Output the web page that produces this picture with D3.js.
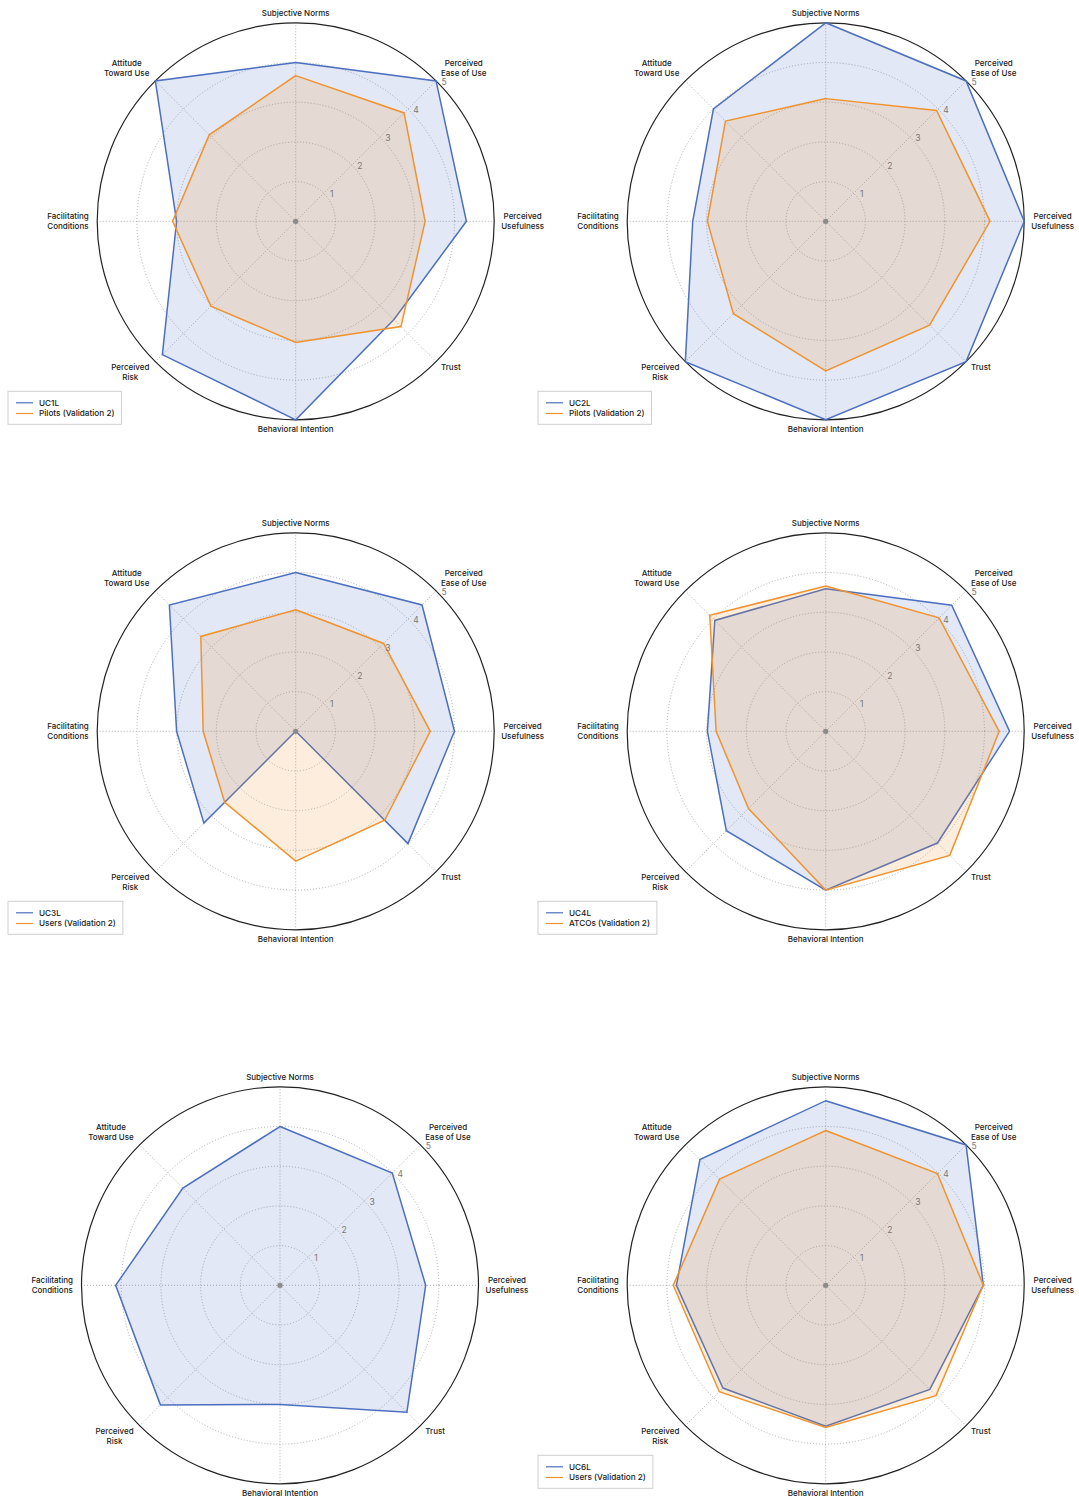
<!DOCTYPE html>
<html>
<head>
<meta charset="utf-8">
<script src="https://cdn.jsdelivr.net/npm/d3@7"></script>
<style>
  html, body { margin: 0; padding: 0; background: #fff; }
  svg { display: block; font-family: Inter, "Noto Sans", sans-serif; }
</style>
</head>
<body>
<svg id="chart" width="1079" height="1497"></svg>
<script>
// Axis categories, clockwise from the top
const categories = ["Subjective Norms", "Perceived\nEase of Use", "Perceived\nUsefulness", "Trust",
  "Behavioral Intention", "Perceived\nRisk", "Facilitating\nConditions", "Attitude\nToward Use"];
const tickValues = [1, 2, 3, 4, 5];

// Series values (same order as categories)
const uc1l = [4.0, 5.0, 4.3, 3.5, 5.0, 4.75, 3.0, 5.0];
const pilotsA = [3.67, 3.86, 3.26, 3.75, 3.05, 3.02, 3.1, 3.08];
const uc2l = [5.0, 5.0, 5.0, 5.0, 5.0, 5.0, 3.35, 4.0];
const pilotsB = [3.09, 3.95, 4.14, 3.7, 3.77, 3.29, 2.98, 3.57];
const uc3l = [4.0, 4.5, 4.0, 4.0, 0.0, 3.27, 3.0, 4.5];
const usersA = [3.06, 3.13, 3.39, 3.17, 3.27, 2.53, 2.33, 3.38];
const uc4l = [3.59, 4.49, 4.63, 3.98, 4.0, 3.54, 2.98, 3.95];
const atcos = [3.66, 4.04, 4.37, 4.42, 4.0, 2.75, 2.76, 4.13];
const uc5l = [4.0, 4.0, 3.67, 4.52, 3.0, 4.26, 4.14, 3.46];
const uc6l = [4.65, 5.0, 3.97, 3.71, 3.55, 3.66, 3.76, 4.48];
const usersB = [3.9, 3.98, 3.97, 3.93, 3.58, 3.79, 3.84, 3.78];

const seriesNames = [
  ["UC1L", "Pilots (Validation 2)"],
  ["UC2L", "Pilots (Validation 2)"],
  ["UC3L", "Users (Validation 2)"],
  ["UC4L", "ATCOs (Validation 2)"],
  ["UC5L"],
  ["UC6L", "Users (Validation 2)"]
];
const seriesValues = [
  [uc1l, pilotsA], [uc2l, pilotsB], [uc3l, usersA], [uc4l, atcos], [uc5l], [uc6l, usersB]
];
const showLegend = [true, true, true, true, false, true];

// Layout
const centers = [[295.7, 221.3], [825.7, 221.3], [295.7, 731.3], [825.7, 731.3], [280, 1285.3], [825.7, 1285.3]];
const R = 198.5;
const colors = ["#4c6fbf", "#f0932f"];
const fillOpacity = [0.16, 0.17];

const svg = d3.select("#chart");
const rScale = d3.scaleLinear().domain([0, 5]).range([0, R]);
const aScale = d3.scaleLinear().domain([0, categories.length]).range([0, 2 * Math.PI]);
const sgn = v => (Math.abs(v) < 1e-6 ? 0 : Math.sign(v));

seriesValues.forEach((sets, ci) => {
  const [cx, cy] = centers[ci];
  const g = svg.append("g").attr("transform", `translate(${cx},${cy})`);

  // rings
  g.selectAll("circle.ring").data(tickValues.slice(0, -1)).join("circle")
    .attr("r", d => rScale(d)).attr("fill", "none")
    .attr("stroke", "#9a9a9a").attr("stroke-width", 0.8).attr("stroke-dasharray", "1,2");
  // spokes
  g.selectAll("line.spoke").data(categories).join("line")
    .attr("x1", 0).attr("y1", 0)
    .attr("x2", (d, i) => rScale(5) * Math.sin(aScale(i)))
    .attr("y2", (d, i) => -rScale(5) * Math.cos(aScale(i)))
    .attr("stroke", "#9a9a9a").attr("stroke-width", 0.8).attr("stroke-dasharray", "1,2");
  // outer circle
  g.append("circle").attr("r", rScale(5)).attr("fill", "none").attr("stroke", "#222").attr("stroke-width", 1.2);

  // series
  const line = d3.lineRadial().angle((d, i) => aScale(i)).radius(d => rScale(d)).curve(d3.curveLinearClosed);
  sets.forEach((vals, si) => {
    g.append("path").attr("d", line(vals)).attr("fill", colors[si]).attr("fill-opacity", fillOpacity[si]).attr("stroke", "none");
    g.append("path").attr("d", line(vals)).attr("fill", "none").attr("stroke", colors[si]).attr("stroke-width", 1.5).attr("stroke-linejoin", "miter");
  });

  // center dot
  g.append("circle").attr("r", 2.6).attr("fill", "#8a8a8a");

  // tick labels along 45 degrees
  const ta = aScale(1);
  g.selectAll("text.tick").data(tickValues).join("text")
    .attr("x", d => rScale(d) * Math.sin(ta) + 8)
    .attr("y", d => -rScale(d) * Math.cos(ta) + 1)
    .attr("text-anchor", "middle").attr("dominant-baseline", "central")
    .attr("font-size", 8.5).attr("fill", "#777").text(d => d);

  // category labels: box anchored outside the circle, lines centred in the box
  categories.forEach((lab, i) => {
    const a = aScale(i);
    const lines = lab.split("\n");
    const t = g.append("text").attr("font-size", 8).attr("font-weight", 500).attr("fill", "#1a1a1a").attr("text-anchor", "middle");
    lines.forEach(ln => t.append("tspan").text(ln));
    let W = 0;
    t.selectAll("tspan").each(function () { W = Math.max(W, this.getComputedTextLength()); });
    const lh = 10;
    const sx = sgn(Math.sin(a)), sy = sgn(Math.cos(a));
    const ax = (R + 7 + (sx < 0 ? 1.5 : 0)) * Math.sin(a);
    const ay = -(R + 7) * Math.cos(a);
    const xc = sx > 0 ? ax + W / 2 : sx < 0 ? ax - W / 2 : ax;
    let firstY;
    if (sy > 0) firstY = ay - 3 - lh * (lines.length - 1);        // upper half: last line above anchor
    else if (sy < 0) firstY = ay + (sx === 0 ? 2 : 0.5);           // lower half: first line at/below anchor
    else firstY = ay - lh * (lines.length - 1) / 2;                // sides: centred
    t.selectAll("tspan").attr("x", xc)
      .attr("y", (d, k) => firstY + lh * k)
      .attr("dominant-baseline", "central");
  });

  // legend
  if (showLegend[ci]) {
    const names = seriesNames[ci];
    const lg = g.append("g").attr("transform", `translate(${-287.7},${170})`);
    const box = lg.append("rect").attr("fill", "#fff").attr("stroke", "#cfcfcf").attr("stroke-width", 1);
    let maxW = 0;
    names.forEach((n, k) => {
      lg.append("line").attr("x1", 8).attr("x2", 25).attr("y1", 11.5 + 10.7 * k).attr("y2", 11.5 + 10.7 * k)
        .attr("stroke", colors[k]).attr("stroke-width", 1.2);
      const tx = lg.append("text").attr("x", 31).attr("y", 11.5 + 10.7 * k).attr("dominant-baseline", "central")
        .attr("font-size", 8.2).attr("font-weight", 500).attr("fill", "#1a1a1a").text(n);
      maxW = Math.max(maxW, tx.node().getComputedTextLength());
    });
    box.attr("x", 0).attr("y", 0).attr("width", 31 + maxW + 7).attr("height", 33);
  }
});
</script>
</body>
</html>
